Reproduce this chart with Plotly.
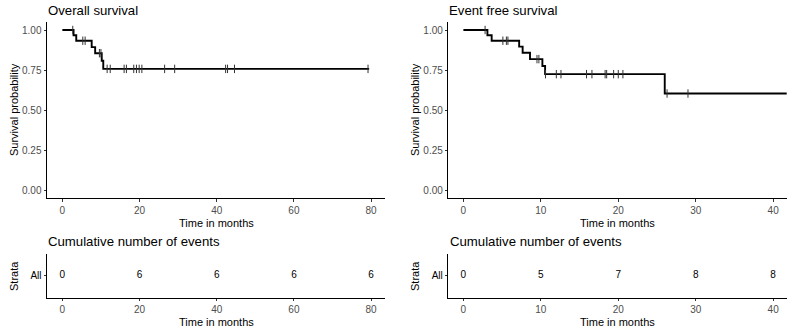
import plotly.graph_objects as go

# ---------------- data ----------------
os_time = [0, 2.9, 3.6, 7.6, 8.5, 10.2, 10.6, 79.5]
os_surv = [1.0, 0.967, 0.933, 0.893, 0.855, 0.808, 0.757, 0.757]
os_cens_t = [2.7, 5.3, 5.9, 9.6, 10.0, 11.6, 12.4, 16.0, 16.6, 18.5, 19.2, 19.9,
             20.6, 26.5, 29.1, 42.3, 42.8, 44.6, 79.2]
os_cens_s = [1.0, 0.933, 0.933, 0.855, 0.855, 0.757, 0.757, 0.757, 0.757, 0.757,
             0.757, 0.757, 0.757, 0.757, 0.757, 0.757, 0.757, 0.757, 0.757]

efs_time = [0, 3.1, 3.65, 7.2, 7.65, 8.6, 10.2, 10.55, 26.0, 45]
efs_surv = [1.0, 0.967, 0.933, 0.896, 0.858, 0.818, 0.775, 0.724, 0.603, 0.603]
efs_cens_t = [2.8, 5.1, 5.55, 5.75, 9.5, 9.75, 10.6, 12.0, 12.6, 15.9, 16.6, 18.3,
              18.5, 19.4, 20.0, 20.6, 26.3, 29.0]
efs_cens_s = [1.0, 0.933, 0.933, 0.933, 0.818, 0.818, 0.724, 0.724, 0.724, 0.724,
              0.724, 0.724, 0.724, 0.724, 0.724, 0.724, 0.603, 0.603]

os_ticks = [0, 20, 40, 60, 80]
os_events = [0, 6, 6, 6, 6]
efs_ticks = [0, 10, 20, 30, 40]
efs_events = [0, 5, 7, 8, 8]

y_ticks = [0, 0.25, 0.5, 0.75, 1.0]
strata = ["All"]

# ---------------- figure ----------------
W, H = 800, 335
FONT = "Liberation Sans, Arial, sans-serif"
fig = go.Figure()


def px_x(p):
    return p / W


def px_y(p):
    return 1 - p / H


line_style = dict(color="black", width=1.9, shape="hv")
cens_marker = dict(symbol="line-ns-open", size=6, color="#333333",
                   line=dict(color="#333333", width=1))

fig.add_trace(go.Scatter(x=os_time, y=os_surv, mode="lines", line=line_style,
                         xaxis="x", yaxis="y", showlegend=False))
fig.add_trace(go.Scatter(x=os_cens_t, y=os_cens_s, mode="markers", marker=cens_marker,
                         xaxis="x", yaxis="y", showlegend=False))
fig.add_trace(go.Scatter(x=efs_time, y=efs_surv, mode="lines", line=line_style,
                         xaxis="x2", yaxis="y2", showlegend=False))
fig.add_trace(go.Scatter(x=efs_cens_t, y=efs_cens_s, mode="markers", marker=cens_marker,
                         xaxis="x2", yaxis="y2", showlegend=False))

fig.add_trace(go.Scatter(x=os_ticks, y=strata * len(os_ticks), mode="text",
                         text=[str(v) for v in os_events],
                         textfont=dict(family=FONT, size=10, color="black"),
                         xaxis="x3", yaxis="y3", showlegend=False))
fig.add_trace(go.Scatter(x=efs_ticks, y=strata * len(efs_ticks), mode="text",
                         text=[str(v) for v in efs_events],
                         textfont=dict(family=FONT, size=10, color="black"),
                         xaxis="x4", yaxis="y4", showlegend=False))

axis_common = dict(showline=True, linecolor="black", linewidth=1, mirror=False,
                   showgrid=False, zeroline=False, ticks="outside", ticklen=2.5,
                   tickcolor="#333333", tickwidth=1,
                   tickfont=dict(family=FONT, size=10, color="#4D4D4D"))

LX = [px_x(47), px_x(385)]
RX = [px_x(448.3), px_x(786.7)]
TOPY = [px_y(198), px_y(22)]
BOTY = [px_y(297.7), px_y(254)]

os_range = [-3.98, 83.6]
efs_range = [-1.95, 41.75]

fig.update_layout(
    width=W, height=H, margin=dict(l=0, r=0, t=0, b=0),
    paper_bgcolor="white", plot_bgcolor="white",
    xaxis=dict(domain=LX, anchor="y", range=os_range, tickvals=os_ticks, **axis_common),
    yaxis=dict(domain=TOPY, anchor="x", range=[-0.05, 1.05], tickvals=y_ticks,
               tickformat=".2f", **axis_common),
    xaxis2=dict(domain=RX, anchor="y2", range=efs_range, tickvals=efs_ticks, **axis_common),
    yaxis2=dict(domain=TOPY, anchor="x2", range=[-0.05, 1.05], tickvals=y_ticks,
                tickformat=".2f", **axis_common),
    xaxis3=dict(domain=LX, anchor="y3", range=os_range, tickvals=os_ticks, **axis_common),
    yaxis3=dict(domain=BOTY, anchor="x3", type="category", range=[-0.5, 0.5],
                **{**axis_common, "tickfont": dict(family=FONT, size=10, color="black")}),
    xaxis4=dict(domain=RX, anchor="y4", range=efs_range, tickvals=efs_ticks, **axis_common),
    yaxis4=dict(domain=BOTY, anchor="x4", type="category", range=[-0.5, 0.5],
                **{**axis_common, "tickfont": dict(family=FONT, size=10, color="black")}),
)

ann = []


def text(x, y, s, size, xanchor="center", yanchor="middle", angle=0, color="black"):
    ann.append(dict(x=x, y=y, xref="paper", yref="paper", text=s, showarrow=False,
                    xanchor=xanchor, yanchor=yanchor, textangle=angle,
                    font=dict(family=FONT, size=size, color=color)))


# titles
text(px_x(46), px_y(10.5), "Overall survival", 13.2, xanchor="left")
text(px_x(447.5), px_y(10.5), "Event free survival", 13.2, xanchor="left")
text(px_x(46), px_y(241.5), "Cumulative number of events", 13.2, xanchor="left")
text(px_x(447.5), px_y(241.5), "Cumulative number of events", 13.2, xanchor="left")
# axis titles
text((LX[0] + LX[1]) / 2, px_y(222.5), "Time in months", 11)
text((RX[0] + RX[1]) / 2, px_y(222.5), "Time in months", 11)
text((LX[0] + LX[1]) / 2, px_y(321.5), "Time in months", 11)
text((RX[0] + RX[1]) / 2, px_y(321.5), "Time in months", 11)
text(px_x(14), px_y(110), "Survival probability", 11, angle=-90)
text(px_x(415), px_y(110), "Survival probability", 11, angle=-90)
text(px_x(14), px_y(276), "Strata", 11, angle=-90)
text(px_x(415), px_y(276), "Strata", 11, angle=-90)

fig.update_layout(annotations=ann)

fig.write_html("out.html")
